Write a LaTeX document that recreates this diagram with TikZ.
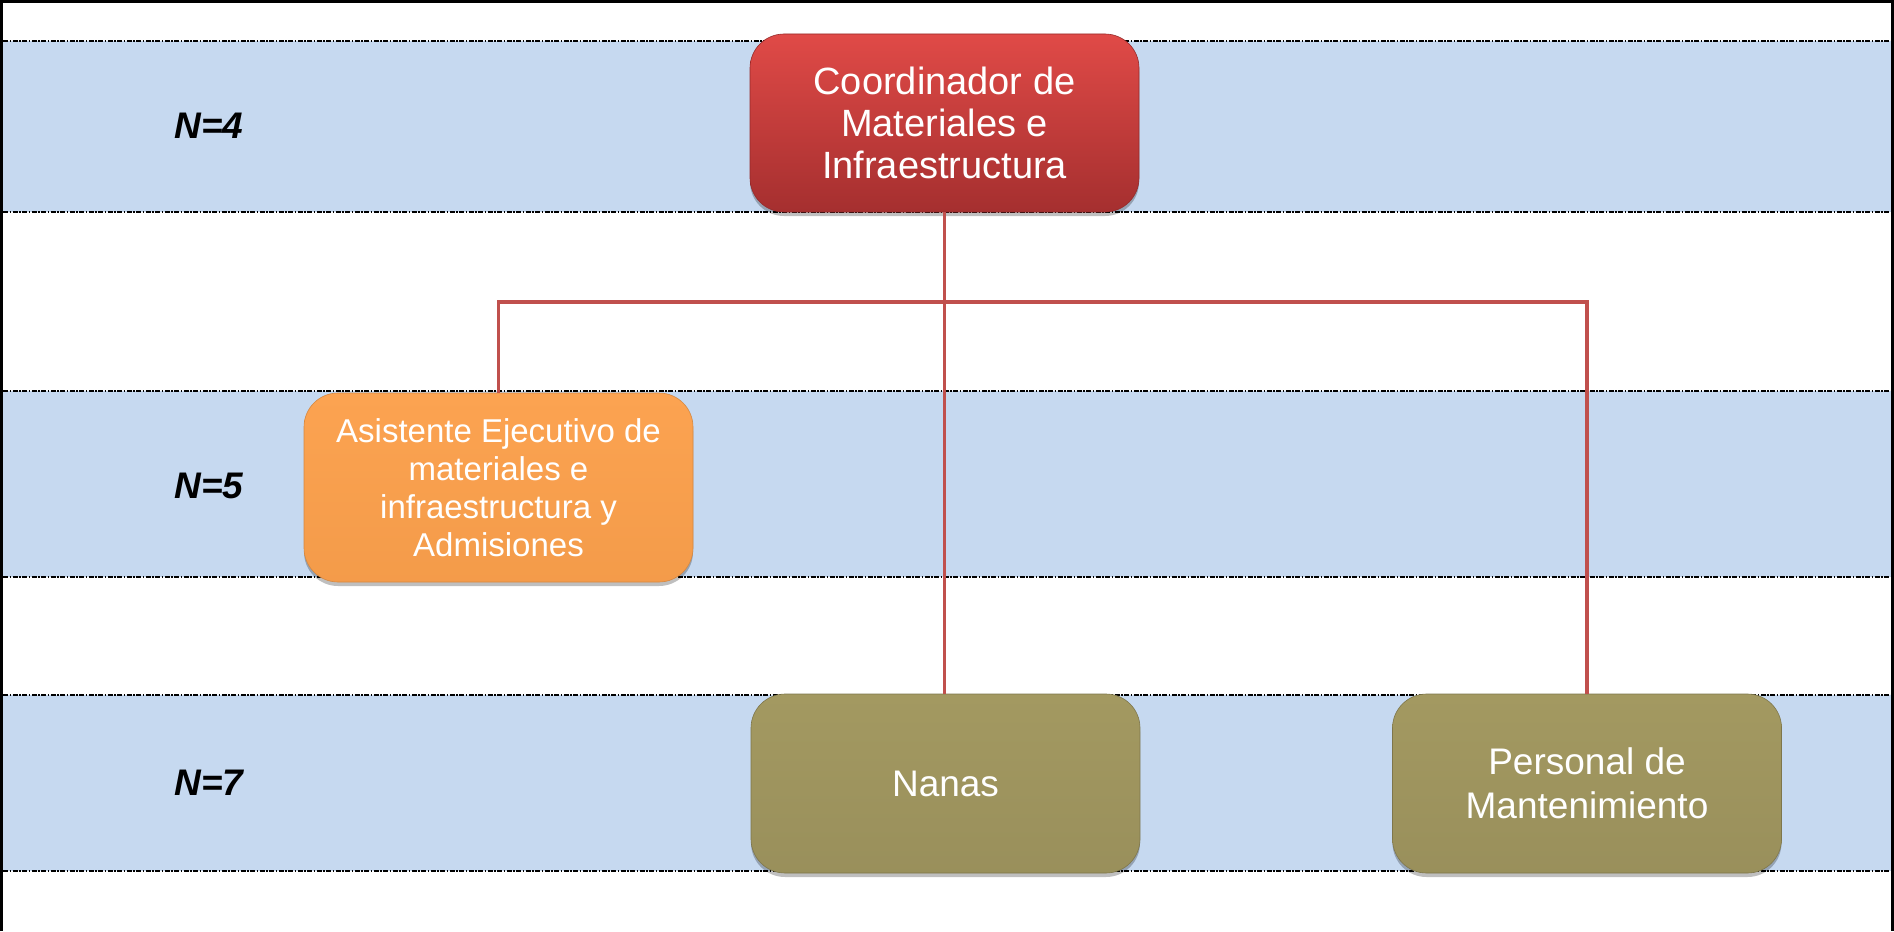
\documentclass[tikz,border=0pt]{standalone}
\usepackage{fontspec}
\setmainfont{Liberation Sans}
\usetikzlibrary{shadows}
\definecolor{bandblue}{HTML}{C6D9F0}
\definecolor{linered}{HTML}{C0504D}
\definecolor{redtop}{HTML}{E04A47}
\definecolor{redbot}{HTML}{A52F2F}
\definecolor{orangefill}{HTML}{FBA04C}
\definecolor{orangetop}{HTML}{FCA351}
\definecolor{olivefill}{HTML}{9E945E}
\definecolor{olivetop}{HTML}{A39961}
\begin{document}
\begin{tikzpicture}[x=1pt,y=-1pt,
  band/.style={fill=bandblue, draw=none},
  sep/.style={black, line width=2pt, dash pattern=on 5pt off 1.5pt on 1.5pt off 1.5pt},
  conn/.style={draw=linered, line width=3.5pt},
  box/.style={rectangle, rounded corners=34pt, minimum width=389pt, align=center, text=white, inner sep=0pt,
    drop shadow={shadow xshift=0pt, shadow yshift=-4pt, opacity=0.25, fill=black}},
  lvl/.style={font=\fontsize{37}{44}\selectfont\bfseries\itshape, text=black}
]
\useasboundingbox (0,0) rectangle (1894,931);
% bands
\fill[band] (3,41) rectangle (1892,212);
\fill[band] (3,391) rectangle (1892,577);
\fill[band] (3,695) rectangle (1892,871);
\foreach \yy in {41,212,391,577,695,871}{
  \draw[sep] (3,\yy) -- (1892,\yy);
}
% nodes
\node[box, minimum height=178pt, top color=redtop, bottom color=redbot, draw=redbot!90!black, line width=0.6pt,
  font=\fontsize{38}{42}\selectfont] (coord) at (944.5,123) {Coordinador de\\Materiales e\\Infraestructura};
\node[box, minimum height=189pt, top color=orangetop, bottom color=orangefill!97!black, draw=orangefill!85!black, line width=0.6pt,
  font=\fontsize{33}{38}\selectfont] (asist) at (498.5,487.5) {Asistente Ejecutivo de\\materiales e\\infraestructura y\\Admisiones};
\node[box, minimum height=179pt, top color=olivetop, bottom color=olivefill!97!black, draw=olivefill!80!black, line width=0.6pt,
  font=\fontsize{37}{44}\selectfont] (nanas) at (945.5,783.5) {Nanas};
\node[box, minimum height=179pt, top color=olivetop, bottom color=olivefill!97!black, draw=olivefill!80!black, line width=0.6pt,
  font=\fontsize{37}{44}\selectfont] (pers) at (1587,783.5) {Personal de\\Mantenimiento};
% connectors
\coordinate (bar) at (944.5,302);
\draw[conn] (coord.south) -- (coord.south |- nanas.north);
\draw[conn] (coord.south) -- (bar) -| (asist.north);
\draw[conn] (bar) -| (pers.north);
% level labels
\node[lvl] (n4) at (209,126) {N=4};
\node[lvl] (n5) at (209,486) {N=5};
\node[lvl] (n7) at (209,783) {N=7};
% outer border
\draw[line width=3pt] (1.5,931) -- (1.5,1.5) -- (1892.5,1.5) -- (1892.5,931);
\end{tikzpicture}
\end{document}
